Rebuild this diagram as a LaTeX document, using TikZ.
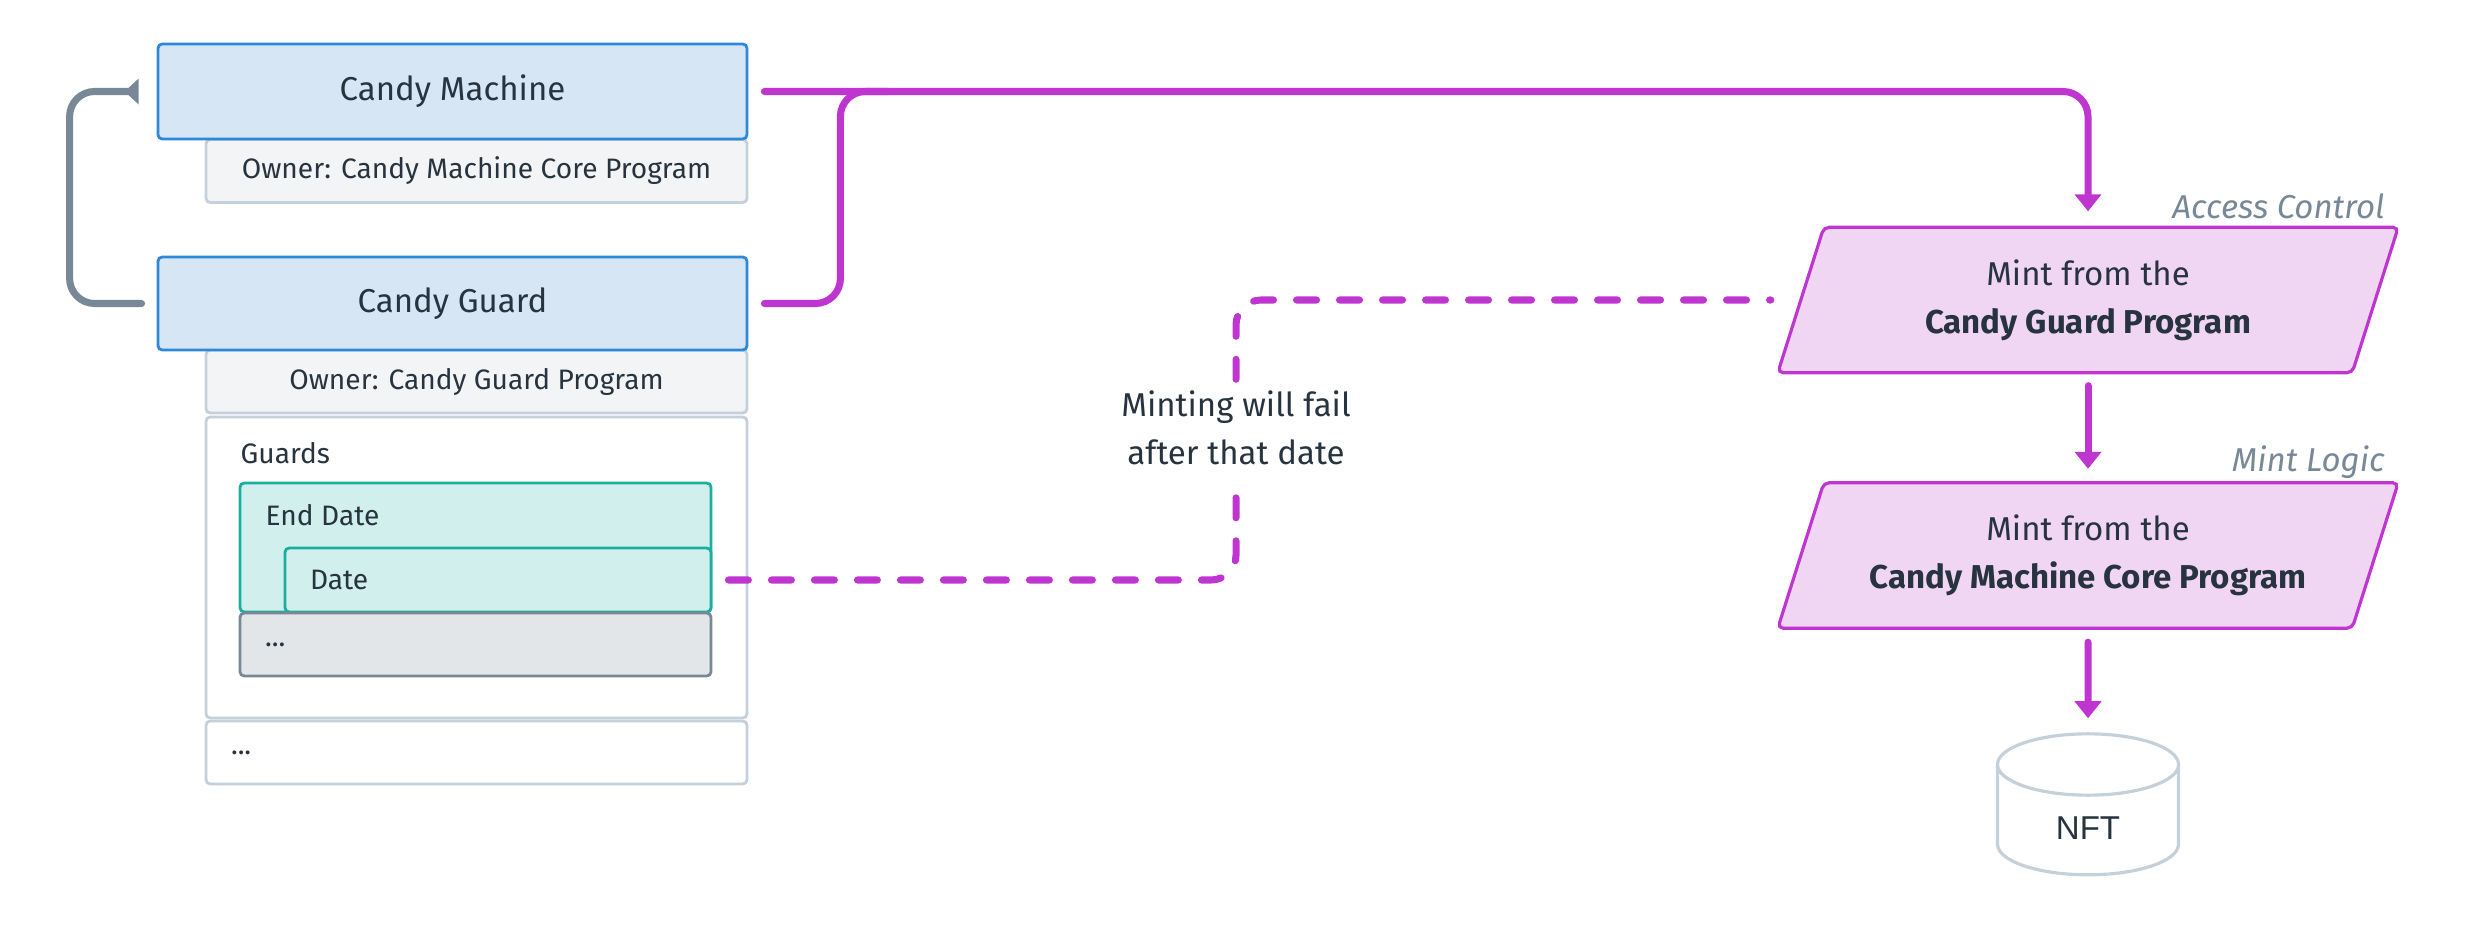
\documentclass[tikz,border=0pt]{standalone}
\usepackage{fontspec}
\setmainfont{Fira Sans}
\newfontfamily\nftfont{Liberation Sans}
\usepackage{tikz}
\usetikzlibrary{arrows.meta,shapes.geometric,backgrounds}

\definecolor{inkdark}{HTML}{27343F}
\definecolor{cmfill}{HTML}{D6E6F5}
\definecolor{cmline}{HTML}{2C88D9}
\definecolor{ownerfill}{HTML}{F3F4F6}
\definecolor{ownerline}{HTML}{C5D0DA}
\definecolor{guardfill}{HTML}{D1EFEC}
\definecolor{guardline}{HTML}{1AAE9F}
\definecolor{restfill}{HTML}{E2E6E9}
\definecolor{slategrey}{HTML}{788896}
\definecolor{mintpink}{HTML}{BF35D0}
\definecolor{mintfill}{HTML}{F1D6F3}

\begin{document}
\begin{tikzpicture}[
  every node/.style = {text=inkdark},
  bigtext/.style = {font=\fontsize{9.4}{13.6}\selectfont},
  smalltext/.style = {font=\fontsize{8}{10}\selectfont},
  account/.style = {draw=cmline, fill=cmfill, line width=0.8pt, rounded corners=1.2pt, minimum width=5.89cm, bigtext},
  owner/.style = {draw=ownerline, fill=ownerfill, line width=0.8pt, rounded corners=1.2pt, minimum width=5.41cm, minimum height=0.63cm, smalltext},
  guard/.style = {draw=guardline, fill=guardfill, line width=0.8pt, rounded corners=1.2pt, minimum height=0.64cm, smalltext},
  restbox/.style = {draw=slategrey, fill=restfill, line width=0.8pt, rounded corners=1.2pt, minimum height=0.63cm, smalltext},
  leftbox/.style = {align=left, inner xsep=0.25cm, inner ysep=0pt, text width=#1},
  boxname/.style = {smalltext, anchor=west, inner sep=0pt},
  mintbody/.style = {minimum width=5.73cm, minimum height=1.44cm, align=center, bigtext},
  mintbox/.style = {draw=mintpink, fill=mintfill, line width=0.9pt, rounded corners=1.5pt},
  tagtext/.style = {text=slategrey, font=\fontsize{9.4}{11}\selectfont\itshape},
  mintline/.style = {draw=mintpink, line width=2pt, line cap=round, rounded corners=0.25cm},
  mintarrow/.style = {mintline, -{Triangle[width=0.26cm, length=0.17cm]}},
  failline/.style = {mintline, dash pattern=on 0.2cm off 0.23cm},
  loopline/.style = {draw=slategrey, line width=2pt, line cap=round, rounded corners=0.25cm, -{Triangle[reversed, width=0.25cm, length=0.14cm]}},
  store/.style = {cylinder, shape border rotate=90, aspect=0.7, draw=ownerline, line width=0.9pt, minimum width=1.81cm, minimum height=1.41cm, font=\nftfont\fontsize{9.4}{11}\selectfont}
]
  \useasboundingbox (0,0) rectangle (24.72,-9.36);

  \node[owner] (cmowner) at (4.765,-1.71) {Owner: Candy Machine Core Program};
  \node[account, minimum height=0.95cm] (cm) at (4.525,-0.915) {Candy Machine};
  \node[owner] (cgowner) at (4.765,-3.815) {Owner: Candy Guard Program};
  \node[account, minimum height=0.93cm] (cg) at (4.525,-3.035) {Candy Guard};

  \node[owner, minimum height=3.01cm, fill=white] (guards) at (4.765,-5.675) {};
  \node[boxname] (guardsname) at (2.40,-4.53) {Guards};
  \node[guard, minimum width=4.71cm, minimum height=1.29cm] (enddate) at (4.755,-5.475) {};
  \node[boxname] (enddatename) at (2.65,-5.15) {End Date};
  \node[guard, leftbox=3.76cm] (date) at (4.98,-5.80) {Date};
  \node[restbox, leftbox=4.21cm] (moreguards) at (4.755,-6.445) {...};
  \node[owner, leftbox=4.91cm, fill=white] (more) at (4.765,-7.525) {...};

  \node[mintbody] (acc) at (20.88,-3.00) {Mint from the\\\textbf{Candy Guard Program}};
  \node[mintbody] (logic) at (20.88,-5.555) {Mint from the\\\textbf{Candy Machine Core Program}};
  \node[tagtext, anchor=east] (acctag) at (23.97,-2.06) {Access Control};
  \node[tagtext, anchor=east] (logictag) at (23.97,-4.62) {Mint Logic};
  \node[store] (nft) at (20.88,-8.28) {NFT};
  \node[bigtext, align=center, minimum height=0.96cm, inner sep=0pt] (fail) at (12.36,-4.28) {Minting will fail\\after that date};

  \begin{scope}[on background layer]
    \foreach \n in {acc,logic}
      \draw[mintbox] ([xshift=0.23cm]\n.north west) -- ([xshift=0.23cm]\n.north east) -- ([xshift=-0.23cm]\n.south east) -- ([xshift=-0.23cm]\n.south west) -- cycle;
  \end{scope}

  \draw[loopline, shorten <=0.15cm, shorten >=0.18cm] (cg.west) -| ([xshift=-0.87cm]cm.west) -- (cm.west);
  \draw[mintarrow, shorten <=0.16cm, shorten >=0.16cm] (cm.east) -| (acc.north);
  \draw[mintline, shorten <=0.16cm] (cg.east) -| ([xshift=0.92cm]cm.east) -- ([xshift=1.4cm]cm.east);
  \draw[mintarrow, shorten <=0.13cm, shorten >=0.14cm] (acc.south) -- (logic.north);
  \draw[mintarrow, shorten <=0.14cm, shorten >=0.14cm] (logic.south) -- (nft.north);
  \draw[failline, shorten <=0.16cm] (date.east) -| (fail.south);
  \draw[failline, shorten >=0.3cm] (fail.north) |- (acc.west);
\end{tikzpicture}
\end{document}
